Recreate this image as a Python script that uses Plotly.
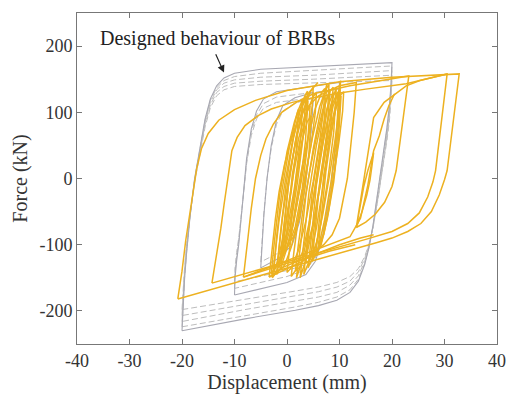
import plotly.graph_objects as go

# ---------------- data ----------------
# Designed behaviour (gray): amplitude-20 loops, shared displacement path
des20_x = [-20.0, -19.8, -19.5, -19.1, -18.5, -17.6, -16.6, -15.6, -14.6, -13.4, -12.0, -10.0, -5.0, 5.0, 20.0,
           19.8, 19.5, 19.0, 18.4, 17.4, 16.4, 15.6, 14.8, 13.6, 12.0, 9.5, 6.0, 1.6, -8.0, -20.0]
des20_y1 = [-230, -190, -150, -110, -60, 0, 45, 90, 120, 140, 152, 159, 165, 169, 175,
            140, 110, 75, 40, -20, -70, -105, -130, -155, -172, -184, -192, -199, -212, -230]
des20_y2 = [-224, -186, -148, -109, -60, -1, 43, 88, 118, 137, 148, 154, 159, 163, 170,
            136, 106, 71, 37, -22, -71, -104, -128, -152, -168, -179, -187, -194, -207, -224]
des20_y3 = [-216, -180, -143, -106, -59, -2, 42, 85, 115, 134, 144, 149, 153, 156, 163,
            129, 99, 65, 32, -25, -72, -103, -125, -147, -161, -172, -179, -185, -198, -216]
des20_y4 = [-207, -173, -138, -102, -58, -4, 40, 82, 111, 130, 139, 144, 147, 150, 156,
            123, 93, 60, 28, -28, -73, -101, -121, -141, -155, -164, -171, -177, -190, -207]
des20_y5 = [-198, -166, -132, -98, -56, -6, 38, 78, 107, 125, 134, 139, 142, 144, 148,
            117, 87, 55, 25, -30, -74, -99, -118, -136, -148, -157, -164, -170, -182, -198]

# amplitude-10 loops
des10_x = [-10.0, -9.9, -9.6, -9.2, -8.5, -7.7, -6.8, -5.8, -4.5, -2.0, 3.0, 10.0,
           9.8, 9.4, 8.6, 7.6, 6.6, 5.4, 3.6, 0.0, -10.0]
des10_y1 = [-176, -150, -125, -100, -40, 30, 75, 102, 120, 131, 137, 145,
            110, 60, 5, -50, -95, -125, -145, -157, -176]
des10_y2 = [-166, -142, -118, -95, -40, 26, 70, 96, 113, 123, 128, 135,
            102, 55, 2, -50, -92, -120, -138, -148, -166]
des10_y3 = [-156, -134, -112, -90, -40, 22, 65, 90, 106, 115, 120, 126,
            96, 50, 0, -50, -88, -114, -130, -139, -156]

# amplitude-5 loops
des5_x = [-5.0, -4.8, -4.4, -3.8, -3.0, -2.0, -0.8, 1.5, 5.0, 4.8, 4.3, 3.5, 2.4, 1.0, -1.5, -5.0]
des5_y1 = [-135, -100, -55, 0, 50, 88, 110, 122, 130, 95, 45, -10, -65, -100, -120, -135]
des5_y2 = [-126, -94, -52, 0, 46, 82, 102, 114, 121, 88, 42, -10, -60, -94, -112, -126]

# Experimental response (orange): large cycles
exp1_x = [-20.8, -20.0, -19.3, -18.3, -17.2, -16.3, -15.0, -13.0, -10.0, -6.0, 0.0, 10.0, 20.0, 32.8,
          30.5, 30.0, 29.0, 27.5, 25.5, 23.0, 20.0, 17.0, -20.8]
exp1_y = [-182, -140, -94, -40, 15, 45, 68, 88, 104, 118, 133, 146, 153, 158,
          12, -2, -25, -50, -68, -80, -90, -97, -182]
exp2_x = [-14.3, -13.8, -13.3, -12.6, -12.0, -11.2, -10.5, -9.5, -8.0, -5.5, -3.0, 1.0, 5.0, 10.0, 15.0, 22.7,
          30.5, 28.3, 27.8, 26.8, 25.2, 23.0, 20.0, 15.0, -14.3]
exp2_y = [-158, -135, -109, -75, -40, 0, 42, 62, 80, 95, 105, 115, 122, 129, 135, 143,
          158, 12, -5, -28, -52, -68, -80, -92, -158]
exp3_x = [-8.3, -7.9, -7.5, -6.8, -6.0, -5.0, -4.0, -2.6, -1.0, 2.0, 5.0, 12.0, 23.2,
          20.8, 20.0, 18.6, 16.8, 15.0, 13.2]
exp3_y = [-149, -125, -94, -45, 0, 35, 60, 82, 100, 116, 128, 140, 155,
          12, -12, -36, -54, -66, -74]
exp4_x = [-3.4, -3.1, -2.8, -2.2, -1.5, -0.5, 0.5, 1.6, 3.0, 6.0, 10.0, 13.2,
          12.8, 12.3, 11.5, 10.0, 8.6, 7.0, 3.0, -3.4]
exp4_y = [-149, -125, -100, -60, -20, 20, 50, 78, 100, 125, 140, 145,
          100, 60, 0, -60, -85, -100, -125, -149]
exp5_x = [13.2, 13.6, 14.0, 14.6, 15.4, 16.5, 16.2, 15.8, 15.2, 14.3, 13.2,
          13.7, 14.3, 15.0, 15.8, 16.5, 18.5, 22.7, 25.3, 30.5]
exp5_y = [-74, -55, -35, -13, 12, 39, 20, -3, -25, -50, -74,
          -48, -18, 15, 55, 92, 115, 140, 148, 158]
exp6_x = [20.5, 19.4, 18.5, 17.6, 16.5, 15.4, 14.0, 12.0, -8.3]
exp6_y = [128, 110, 90, 65, 42, -10, -60, -88, -149]

# central small cycles (each: bottom -> top -> back)
c01_x = [-2.5, -2.0, -1.0, 0.5, 2.0, 3.0, 2.6, 1.5, 0.0, -1.5, -2.5]
c01_y = [-140, -90, -20, 50, 100, 120, 60, -10, -80, -125, -140]
c02_x = [-1.8, -1.2, -0.2, 1.2, 2.6, 3.6, 3.1, 2.0, 0.6, -0.8, -1.8]
c02_y = [-130, -80, -10, 60, 105, 125, 65, -5, -75, -118, -130]
c03_x = [-1.0, -0.5, 0.4, 1.8, 3.0, 4.0, 3.5, 2.5, 1.2, -0.2, -1.0]
c03_y = [-120, -70, 0, 65, 100, 118, 55, -10, -70, -108, -120]
c04_x = [-0.4, 0.2, 1.0, 2.2, 3.4, 4.4, 3.9, 2.9, 1.6, 0.4, -0.4]
c04_y = [-110, -60, 5, 60, 95, 110, 50, -15, -72, -100, -110]
c05_x = [-3.0, -2.4, -1.4, 0.0, 1.4, 2.2, 1.8, 0.8, -0.6, -2.0, -3.0]
c05_y = [-145, -95, -25, 40, 85, 105, 45, -20, -85, -130, -145]
c06_x = [2.5, 3.2, 4.2, 5.6, 7.0, 8.2, 7.6, 6.4, 5.0, 3.5, 2.5]
c06_y = [-150, -95, -20, 50, 105, 135, 70, 0, -70, -125, -150]
c07_x = [3.2, 3.9, 4.9, 6.3, 7.6, 8.8, 8.2, 7.0, 5.6, 4.2, 3.2]
c07_y = [-145, -90, -15, 55, 105, 130, 65, -5, -75, -125, -145]
c08_x = [4.0, 4.7, 5.6, 7.0, 8.3, 9.4, 8.9, 7.8, 6.4, 5.0, 4.0]
c08_y = [-135, -85, -10, 60, 110, 138, 70, 0, -70, -118, -135]
c09_x = [4.8, 5.4, 6.3, 7.6, 8.8, 9.9, 9.4, 8.4, 7.1, 5.8, 4.8]
c09_y = [-125, -75, 0, 65, 110, 132, 65, -5, -65, -110, -125]
c10_x = [5.5, 6.1, 7.0, 8.2, 9.3, 10.3, 9.8, 8.9, 7.7, 6.5, 5.5]
c10_y = [-115, -65, 5, 65, 105, 125, 60, -5, -60, -100, -115]
c11_x = [1.8, 2.6, 3.6, 5.0, 6.6, 7.6, 7.0, 5.8, 4.4, 2.9, 1.8]
c11_y = [-150, -100, -25, 45, 110, 143, 80, 10, -65, -125, -150]
c12_x = [6.0, 6.6, 7.4, 8.5, 9.6, 10.2, 9.8, 9.0, 8.0, 7.0, 6.0]
c12_y = [-100, -50, 10, 70, 120, 148, 80, 10, -45, -85, -100]
c13_x = [-1.5, -0.8, 0.2, 1.6, 3.0, 4.2, 5.9]
c13_y = [-135, -85, -15, 55, 110, 130, 145]
c14_x = [0.5, 1.0, 1.8, 2.8, 3.8, 4.6, 4.2, 3.4, 2.4, 1.3, 0.5]
c14_y = [-95, -50, 5, 55, 85, 95, 40, -15, -60, -88, -95]
c15_x = [-3.4, -1.0, 2.0, 6.0, 10.0, 14.0, 16.5]
c15_y = [-149, -135, -125, -112, -100, -90, -85]
c16_x = [-8.3, -4.0, 0.0, 4.0, 8.0, 13.0]
c16_y = [-149, -138, -128, -120, -110, -100]
c17_x = [-2.0, -1.6, -0.8, 0.4, 1.8, 3.2, 4.4, 5.0, 4.8, 4.0, 2.8, 1.4, 0.0, -1.2, -2.0]
c17_y = [-145, -110, -55, 5, 60, 105, 130, 138, 110, 60, 0, -60, -105, -135, -145]
c18_x = [-1.2, -0.7, 0.1, 1.3, 2.6, 3.9, 5.0, 5.6, 5.4, 4.6, 3.4, 2.1, 0.8, -0.4, -1.2]
c18_y = [-138, -102, -48, 10, 62, 102, 124, 130, 100, 52, -5, -62, -104, -130, -138]
c19_x = [0.8, 1.3, 2.2, 3.4, 4.8, 6.2, 7.4, 8.0, 7.8, 6.9, 5.7, 4.3, 3.0, 1.7, 0.8]
c19_y = [-148, -112, -58, 2, 60, 108, 135, 142, 112, 60, -2, -64, -110, -138, -148]
c20_x = [1.6, 2.1, 3.0, 4.3, 5.7, 7.0, 8.2, 8.8, 8.5, 7.6, 6.4, 5.0, 3.6, 2.4, 1.6]
c20_y = [-140, -104, -50, 10, 66, 110, 132, 138, 106, 54, -8, -68, -110, -134, -140]
c21_x = [3.6, 4.0, 4.8, 5.9, 7.2, 8.4, 9.5, 10.1, 9.9, 9.1, 8.0, 6.8, 5.6, 4.4, 3.6]
c21_y = [-128, -92, -40, 15, 68, 108, 128, 134, 104, 55, 0, -55, -98, -122, -128]
c22_x = [-2.8, -2.3, -1.5, -0.3, 1.0, 2.3, 3.4, 3.9, 3.7, 2.9, 1.8, 0.6, -0.7, -1.9, -2.8]
c22_y = [-150, -116, -62, -2, 55, 100, 125, 132, 104, 55, -5, -65, -110, -140, -150]
c23_x = [0.0, 0.5, 1.4, 2.6, 4.0, 5.4, 6.6, 7.2, 7.0, 6.2, 5.0, 3.6, 2.2, 0.9, 0.0]
c23_y = [-142, -106, -52, 6, 62, 106, 130, 136, 106, 56, -4, -64, -108, -134, -142]
c24_x = [4.6, 5.0, 5.8, 6.9, 8.1, 9.2, 10.2, 10.8, 10.6, 9.9, 8.9, 7.8, 6.7, 5.5, 4.6]
c24_y = [-118, -84, -34, 20, 70, 108, 126, 131, 102, 56, 4, -50, -92, -114, -118]

x_ticks = [-40, -30, -20, -10, 0, 10, 20, 30, 40]
y_ticks = [-200, -100, 0, 100, 200]

# ---------------- figure ----------------
GRAY = "#bdbdbd"
ORANGE = "#EDB120"
fig = go.Figure()


def add(x, y, color, width, dash="solid"):
    fig.add_trace(go.Scatter(x=x, y=y, mode="lines", showlegend=False, hoverinfo="skip",
                             line=dict(color=color, width=width, dash=dash)))


# designed (gray)
for ys in [des20_y2, des20_y3, des20_y4, des20_y5]:
    add(des20_x, ys, GRAY, 1, "6px,3px")
for ys in [des10_y2, des10_y3]:
    add(des10_x, ys, GRAY, 1, "6px,3px")
add(des5_x, des5_y2, GRAY, 1, "6px,3px")
add(des20_x, des20_y1, "#a8a8b2", 1.1)
add(des10_x, des10_y1, "#a8a8b2", 1.1)
add(des5_x, des5_y1, "#a8a8b2", 1.1)

# experimental (orange)
for xs, ys in [(exp1_x, exp1_y), (exp2_x, exp2_y), (exp3_x, exp3_y), (exp4_x, exp4_y),
               (exp5_x, exp5_y), (exp6_x, exp6_y),
               (c01_x, c01_y), (c02_x, c02_y), (c03_x, c03_y), (c04_x, c04_y),
               (c05_x, c05_y), (c06_x, c06_y), (c07_x, c07_y), (c08_x, c08_y),
               (c09_x, c09_y), (c10_x, c10_y), (c11_x, c11_y), (c12_x, c12_y),
               (c13_x, c13_y), (c14_x, c14_y), (c15_x, c15_y), (c16_x, c16_y),
               (c17_x, c17_y), (c18_x, c18_y), (c19_x, c19_y), (c20_x, c20_y),
               (c21_x, c21_y), (c22_x, c22_y), (c23_x, c23_y), (c24_x, c24_y)]:
    add(xs, ys, ORANGE, 1.5)

FONT = "Liberation Serif"
fig.add_annotation(x=-12.0, y=160, ax=-13.7, ay=190, xref="x", yref="y", axref="x", ayref="y",
                   text="", showarrow=True, arrowhead=2, arrowsize=1.2, arrowwidth=1.2,
                   arrowcolor="#222")
fig.add_annotation(x=-13.3, y=211, xref="x", yref="y", text="Designed behaviour of BRBs",
                   showarrow=False, font=dict(family=FONT, size=20, color="#222"))

axis_common = dict(showgrid=False, zeroline=False, showline=True, mirror="ticks",
                   linecolor="#777", linewidth=1, ticks="inside", ticklen=5,
                   tickcolor="#777", tickfont=dict(family=FONT, size=18, color="#333"))
fig.update_xaxes(range=[-40, 40], tickvals=x_ticks, ticktext=[str(v) for v in x_ticks],
                 title=dict(text="Displacement (mm)", font=dict(family=FONT, size=20, color="#333"),
                            standoff=4), **axis_common)
fig.update_yaxes(range=[-250, 250], tickvals=y_ticks, ticktext=[str(v) for v in y_ticks],
                 title=dict(text="Force (kN)", font=dict(family=FONT, size=20, color="#333"),
                            standoff=6), **axis_common)
fig.update_layout(width=515, height=400, margin=dict(l=77, r=9, t=13, b=56),
                  plot_bgcolor="white", paper_bgcolor="white")
fig.write_html("out.html")
